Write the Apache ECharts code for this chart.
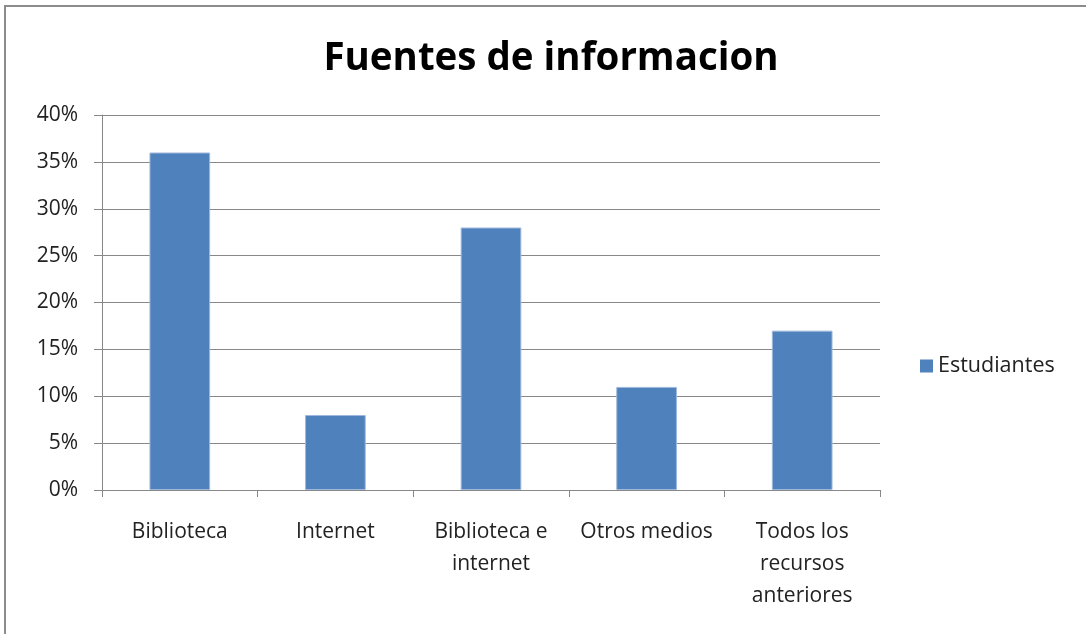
<!DOCTYPE html>
<html><head><meta charset="utf-8">
<script src="https://cdn.jsdelivr.net/npm/echarts@6/dist/echarts.min.js"></script>
<style>
html,body{margin:0;padding:0;background:#fff;}
#frame{position:absolute;left:4px;top:5px;width:1100px;height:640px;border-left:2px solid #8c8c8c;border-top:2px solid #8c8c8c;}
#c{position:absolute;left:0;top:0;width:1086px;height:634px;}
</style></head>
<body>
<div id="frame"></div>
<div id="c"></div>
<script>
const categories = ['Biblioteca', 'Internet', 'Biblioteca e\ninternet', 'Otros medios', 'Todos los\nrecursos\nanteriores'];
const seriesName = 'Estudiantes';
const values = [0.36, 0.08, 0.28, 0.11, 0.17];
const titleText = 'Fuentes de informacion';

const font = 'Open Sans';
const chart = echarts.init(document.getElementById('c'), null, {renderer: 'canvas'});
chart.setOption({
  animation: false,
  title: {text: titleText, left: 546, top: 35, textAlign: 'center',
    textStyle: {fontFamily: font, fontSize: 38.5, fontWeight: 'bold', color: '#000'}},
  legend: {data: [seriesName], left: 915, top: 350, itemWidth: 13, itemHeight: 13, itemGap: 7,
    icon: 'rect', itemStyle: {borderWidth: 0},
    textStyle: {fontFamily: font, fontSize: 21.5, color: '#222'}},
  grid: {left: 102, top: 115, width: 778, height: 375, containLabel: false},
  xAxis: {type: 'category', data: categories,
    axisLine: {lineStyle: {color: '#888', width: 1}},
    axisTick: {show: true, length: 7, lineStyle: {color: '#888'}},
    axisLabel: {interval: 0, hideOverlap: false, fontFamily: font, fontSize: 21, color: '#222', margin: 26, lineHeight: 32}},
  yAxis: {type: 'value', min: 0, max: 0.4, interval: 0.05,
    axisLine: {show: true, lineStyle: {color: '#888'}},
    axisTick: {show: true, length: 8, inside: false, lineStyle: {color: '#888'}},
    splitLine: {lineStyle: {color: '#888', width: 1}},
    axisLabel: {fontFamily: font, fontSize: 21, color: '#222', margin: 24,
      formatter: v => Math.round(v * 100) + '%'}},
  series: [{name: seriesName, type: 'bar', data: values, barWidth: '39%',
    itemStyle: {color: '#4F81BD', borderColor: '#9fb9dc', borderWidth: 1}}]
});
</script>
</body></html>
